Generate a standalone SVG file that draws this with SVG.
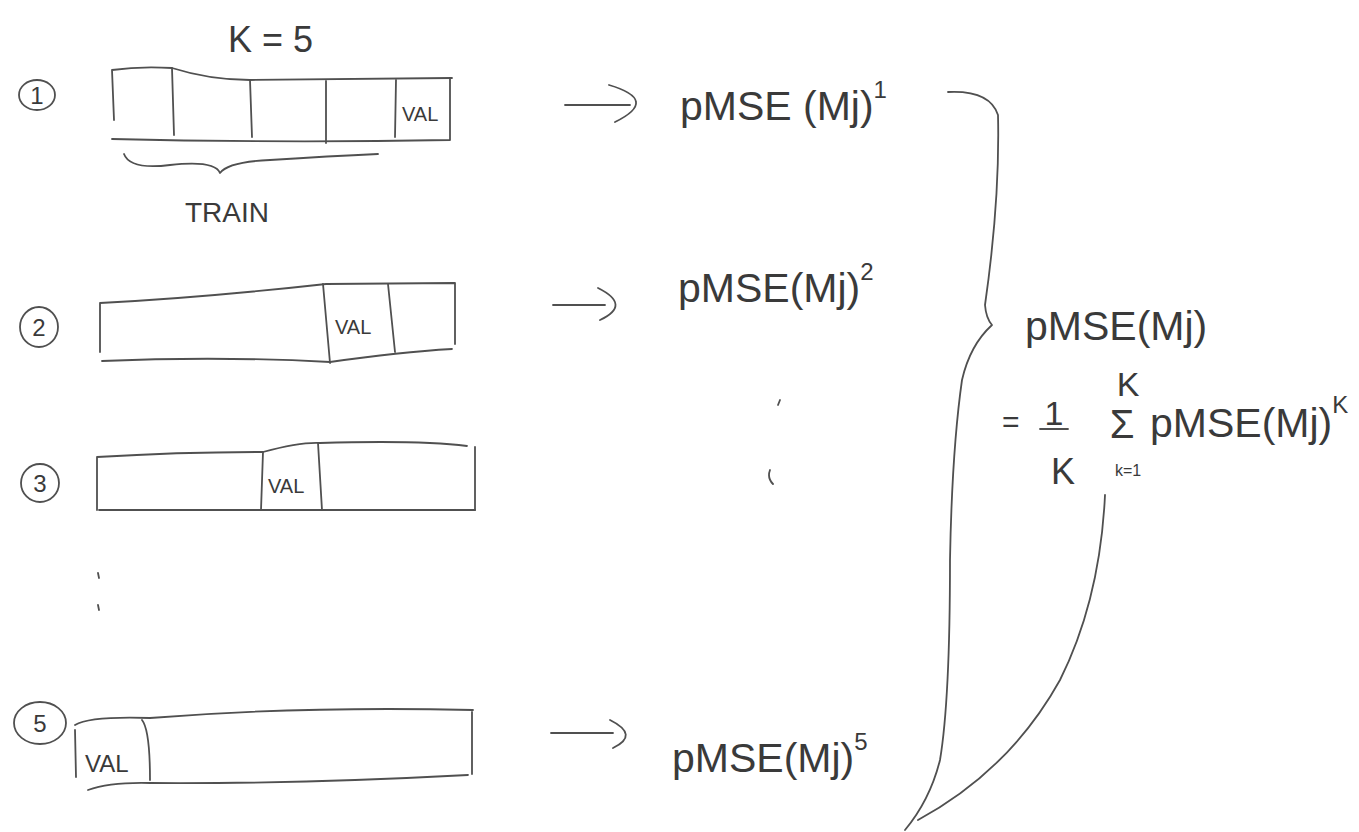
<svg xmlns="http://www.w3.org/2000/svg" width="1359" height="832" viewBox="0 0 1359 832">
<style>
.s{fill:none;stroke:#505050;stroke-width:1.8;stroke-linecap:round;stroke-linejoin:round}
.t{font-family:"Liberation Sans",Arial,sans-serif;fill:#3a3a3a}
.h{font-size:41px}
.sm{font-size:20px}
.sup{font-size:24px}
.n{font-size:24px}
</style>
<rect width="1359" height="832" fill="#ffffff"/>

<g id="row1">
  <ellipse class="s" cx="37" cy="95" rx="18" ry="15"/>
  <text class="t n" x="37" y="104" text-anchor="middle">1</text>
  <path class="s" d="M114,120 L112,70 Q140,66 172,68 Q210,80 250,80 L452,78"/>
  <path class="s" d="M112,139 Q280,143 450,140 L450,78"/>
  <path class="s" d="M172,68 L174,135 M250,80 L252,137 M326,81 L326,143 M396,80 L395,137"/>
  <text class="t sm" x="402" y="121">VAL</text>
  <path class="s" d="M124,154 Q130,170 170,165 Q215,160 220,173 Q228,162 270,160 Q330,156 378,154"/>
  <text class="t" x="185" y="222" font-size="28">TRAIN</text>
  <text class="t" x="228" y="52" font-size="36">K = 5</text>
</g>

<g id="row2">
  <ellipse class="s" cx="39" cy="327" rx="19" ry="20"/>
  <text class="t n" x="39" y="336" text-anchor="middle">2</text>
  <path class="s" d="M100,352 L100,303 Q200,298 326,284 L455,283 L455,344"/>
  <path class="s" d="M102,361 Q220,356 330,362 Q400,352 452,349"/>
  <path class="s" d="M323,284 L330,363 M388,284 L395,352"/>
  <text class="t sm" x="335" y="334">VAL</text>
</g>

<g id="row3">
  <ellipse class="s" cx="40" cy="483" rx="19" ry="19"/>
  <text class="t n" x="40" y="492" text-anchor="middle">3</text>
  <path class="s" d="M97,510 L97,457 Q180,452 263,452 Q300,442 320,443 Q420,440 467,446"/>
  <path class="s" d="M475,447 L475,510"/>
  <path class="s" d="M99,510 L475,510"/>
  <path class="s" d="M263,452 L261,510 M318,443 L322,510"/>
  <text class="t sm" x="268" y="493">VAL</text>
</g>

<g id="dots">
  <path class="s" d="M98,573 L99,578 M98,605 L99,610 M780,400 L778,405 M770,470 Q767,478 773,484"/>
</g>

<g id="row5">
  <ellipse class="s" cx="40" cy="723" rx="26" ry="21"/>
  <text class="t n" x="40" y="732" text-anchor="middle">5</text>
  <path class="s" d="M75,725 Q90,716 150,718 Q300,706 473,710"/>
  <path class="s" d="M75,730 L76,777 M142,720 Q150,730 150,780 M472,712 L472,774"/>
  <path class="s" d="M88,790 Q110,782 150,783 Q300,784 468,775"/>
  <text class="t" x="85" y="772" font-size="24">VAL</text>
</g>

<g id="connectors">
  <path class="s" d="M565,105 L630,105 M609,85 Q660,100 615,122"/>
  <path class="s" d="M553,305 L605,305 M598,288 Q632,305 600,320"/>
  <path class="s" d="M551,733 L613,733 M610,720 Q640,735 613,748"/>
  <path class="s" d="M948,92 Q990,90 998,115 Q1000,200 985,305 Q986,318 992,325 Q970,345 962,380 Q952,450 950,560 Q950,700 940,760 Q930,800 905,830"/>
  <path class="s" d="M1105,495 Q1100,600 1060,680 Q1010,770 918,820"/>
</g>

<g id="results">
  <text class="t h" x="680" y="120">pMSE (Mj)<tspan class="sup" dy="-22">1</tspan></text>
  <text class="t h" x="678" y="302">pMSE(Mj)<tspan class="sup" dy="-22">2</tspan></text>
  <text class="t h" x="672" y="772">pMSE(Mj)<tspan class="sup" dy="-22">5</tspan></text>
</g>

<g id="formula">
  <text class="t h" x="1025" y="340">pMSE(Mj)</text>
  <text class="t" x="1002" y="432" font-size="30">=</text>
  <text class="t" x="1054" y="425" font-size="34" text-anchor="middle">1</text>
  <path class="s" d="M1040,429 L1068,429"/>
  <text class="t" x="1063" y="484" font-size="36" text-anchor="middle">K</text>
  <text class="t" x="1122" y="438" font-size="40" text-anchor="middle">Σ</text>
  <text class="t" x="1128" y="396" font-size="34" text-anchor="middle">K</text>
  <text class="t" x="1128" y="476" font-size="16" text-anchor="middle">k=1</text>
  <text class="t h" x="1150" y="437">pMSE(Mj)<tspan class="sup" dy="-24">K</tspan></text>
</g>
</svg>
